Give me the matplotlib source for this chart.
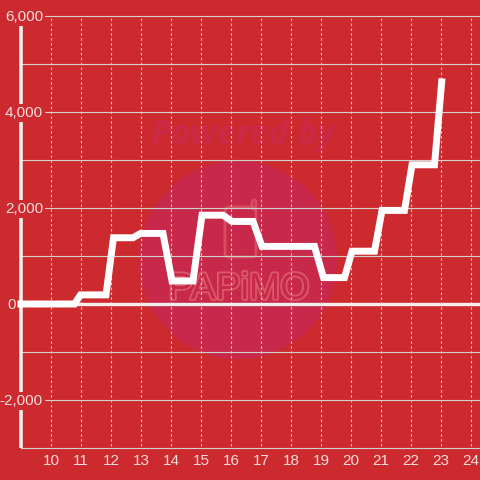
"""plot.py - red step-like line chart with grid and watermark, saved to out.png"""
import matplotlib
matplotlib.use("Agg")
import matplotlib.pyplot as plt
import matplotlib.patheffects as pe
from matplotlib.patches import Ellipse, FancyBboxPatch

BG, CIRCLE, GRID, AXIS, TEXT = "#CC2A2E", "#C8294A", "#CDD3CC", "#F3EFEC", "#F5DEDC"
MARK, STAMP = "#CB2A46", "#DB5A68"

x_vals = [8.9, 10.8, 11.0, 11.85, 12.1, 12.75, 13.0, 13.75, 14.05, 14.75, 15.05,
          15.75, 16.05, 16.75, 17.05, 18.8, 19.1, 19.8, 20.05, 20.8, 21.05,
          21.8, 22.05, 22.8, 23.05]
y_vals = [0, 0, 190, 190, 1380, 1380, 1470, 1470, 480, 480, 1850,
          1850, 1720, 1720, 1200, 1200, 550, 550, 1100, 1100, 1950,
          1950, 2900, 2900, 4700]
x_ticks = [10, 11, 12, 13, 14, 15, 16, 17, 18, 19, 20, 21, 22, 23, 24]
y_major = [6000, 4000, 2000, -2000]
y_major_labels = ["6,000", "4,000", "2,000", "-2,000"]
y_minor = [5000, 3000, 1000, -1000]

plt.rcParams["font.family"] = ["Liberation Sans", "DejaVu Sans"]
W = 480.0
fig = plt.figure(figsize=(4.8, 4.8), dpi=100, facecolor=BG)
ax = fig.add_axes([20.5 / W, (W - 448) / W, 459.5 / W, 432 / W], facecolor="none")
ax.set_zorder(5)
ax.set_xlim(9, 9 + 459.5 / 30)
ax.set_ylim(-3000, 6000)
ax.set_axis_off()

# watermark, placed in figure pixels, under the axes
fig.patches.append(Ellipse((238 / W, (W - 260) / W), 197 / W, 197 / W, color=CIRCLE,
                           transform=fig.transFigure, zorder=0))
fig.patches.append(FancyBboxPatch((225 / W, (W - 257) / W), 31 / W, 50 / W,
                                  boxstyle="round,pad=0,rounding_size=0.008",
                                  fc="none", ec=STAMP, lw=2, alpha=0.75,
                                  transform=fig.transFigure, zorder=1))
fig.patches.append(FancyBboxPatch((252 / W, (W - 209) / W), 4 / W, 9 / W,
                                  boxstyle="round,pad=0,rounding_size=0.004",
                                  fc="none", ec=STAMP, lw=2, alpha=0.75,
                                  transform=fig.transFigure, zorder=1))
fig.text(243 / W, (W - 135) / W, "Powered by", color=MARK, fontsize=24.5, weight="bold",
         style="italic", family="Open Sans", ha="center", va="center", zorder=1)
fig.text(239 / W, (W - 289) / W, "PAPiMO", color=CIRCLE, fontsize=27,
         ha="center", va="center", zorder=1,
         path_effects=[pe.withStroke(linewidth=2.5, foreground=STAMP)])

# grid
for v in y_major + y_minor + [-3000]:
    ax.axhline(v, color=GRID, lw=0.8, zorder=2, clip_on=False)
ax.vlines(x_ticks, -2950, 6000, color=GRID, lw=0.8, linestyles=(0, (2.2, 2.2)), zorder=2)

# y axis, zero line, series
ax.plot([9, 9], [-3000, 6000 - 170], color=AXIS, lw=2.6, solid_capstyle="butt",
        zorder=3, clip_on=False)
ax.plot([8.9, 9 + 459.5 / 30], [0, 0], color=AXIS, lw=2.4, solid_capstyle="butt",
        zorder=3, clip_on=False)
ax.plot(x_vals, y_vals, color="white", lw=5, solid_capstyle="butt",
        solid_joinstyle="miter", zorder=4, clip_on=False)

# tick labels, boxed in the background colour so they cut the axis line
trans = ax.get_yaxis_transform()
for v, lab in zip(y_major, y_major_labels):
    ax.annotate(lab, xy=(0, v), xycoords=trans, xytext=(22.5, -1), textcoords="offset pixels",
                ha="right", va="center", color=TEXT, fontsize=11, zorder=5,
                bbox=dict(fc=BG, ec="none", pad=1.5), annotation_clip=False)
ax.annotate("0", xy=(0, 0), xycoords=trans, xytext=(-4.5, -1), textcoords="offset pixels",
            ha="right", va="center", color=TEXT, fontsize=11, zorder=5,
            annotation_clip=False)
for v in x_ticks:
    ax.annotate(str(v), xy=(v, 0), xycoords=ax.get_xaxis_transform(), xytext=(0.5, -13),
                textcoords="offset pixels", ha="center", va="center", color=TEXT,
                fontsize=11, annotation_clip=False)

fig.savefig("out.png", dpi=100, facecolor=BG)
